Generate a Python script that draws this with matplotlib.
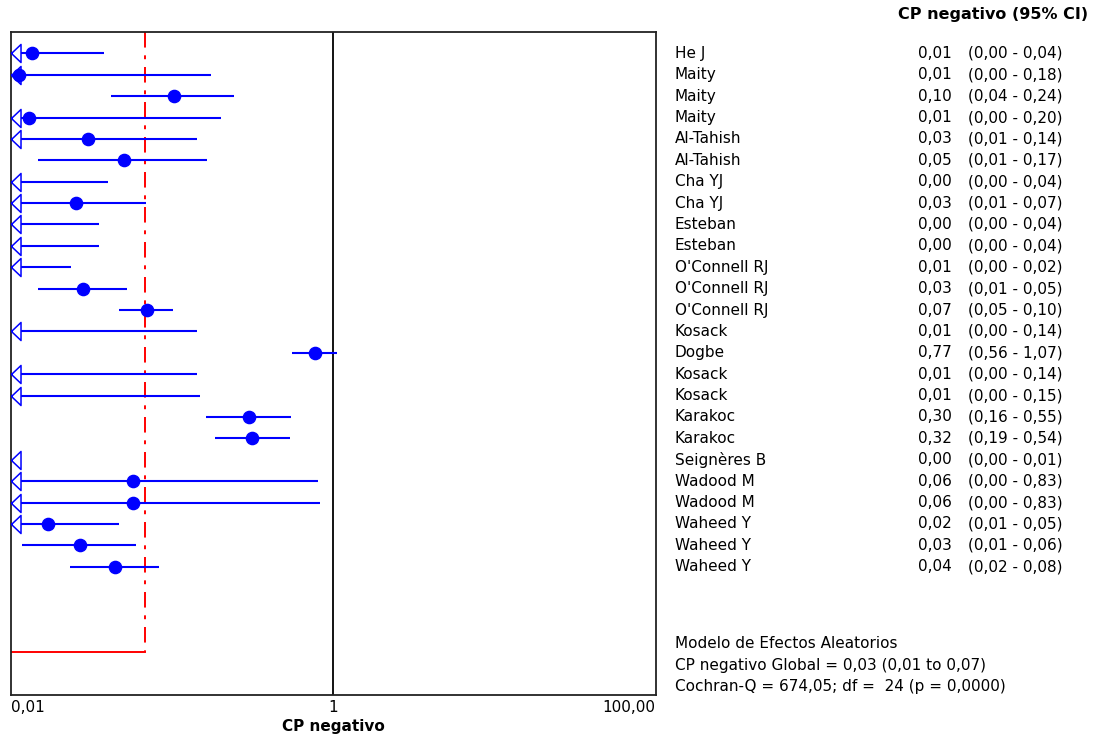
import matplotlib.pyplot as plt
import matplotlib.transforms as mtransforms
import numpy as np

# study labels and the printed columns
names = ["He J", "Maity", "Maity", "Maity", "Al-Tahish", "Al-Tahish", "Cha YJ", "Cha YJ",
         "Esteban", "Esteban", "O'Connell RJ", "O'Connell RJ", "O'Connell RJ", "Kosack",
         "Dogbe", "Kosack", "Kosack", "Karakoc", "Karakoc", "Seignères B", "Wadood M",
         "Wadood M", "Waheed Y", "Waheed Y", "Waheed Y"]
est_lbl = ["0,01", "0,01", "0,10", "0,01", "0,03", "0,05", "0,00", "0,03", "0,00", "0,00",
           "0,01", "0,03", "0,07", "0,01", "0,77", "0,01", "0,01", "0,30", "0,32", "0,00",
           "0,06", "0,06", "0,02", "0,03", "0,04"]
ci_lbl = ["(0,00 - 0,04)", "(0,00 - 0,18)", "(0,04 - 0,24)", "(0,00 - 0,20)", "(0,01 - 0,14)",
          "(0,01 - 0,17)", "(0,00 - 0,04)", "(0,01 - 0,07)", "(0,00 - 0,04)", "(0,00 - 0,04)",
          "(0,00 - 0,02)", "(0,01 - 0,05)", "(0,05 - 0,10)", "(0,00 - 0,14)", "(0,56 - 1,07)",
          "(0,00 - 0,14)", "(0,00 - 0,15)", "(0,16 - 0,55)", "(0,19 - 0,54)", "(0,00 - 0,01)",
          "(0,00 - 0,83)", "(0,00 - 0,83)", "(0,01 - 0,05)", "(0,01 - 0,06)", "(0,02 - 0,08)"]

# values (log axis)
est = [0.0135, 0.0113, 0.102, 0.013, 0.030, 0.050, 0.003, 0.0255, 0.003, 0.003,
       0.006, 0.028, 0.070, 0.007, 0.764, 0.007, 0.007, 0.30, 0.315, 0.002,
       0.057, 0.057, 0.0171, 0.0268, 0.0443]
lo = [0.002, 0.002, 0.042, 0.002, 0.009, 0.0147, 0.001, 0.008, 0.001, 0.001,
      0.001, 0.0147, 0.047, 0.001, 0.55, 0.001, 0.001, 0.1615, 0.185, 0.0005,
      0.002, 0.002, 0.008, 0.0117, 0.0232]
hi = [0.038, 0.174, 0.241, 0.20, 0.143, 0.164, 0.040, 0.069, 0.035, 0.035,
      0.0236, 0.0525, 0.101, 0.143, 1.05, 0.143, 0.149, 0.545, 0.535, 0.01,
      0.808, 0.823, 0.0466, 0.060, 0.0827]

pooled_line = 0.068
summary = ["Modelo de Efectos Aleatorios",
           "CP negativo Global = 0,03 (0,01 to 0,07)",
           "Cochran-Q = 674,05; df =  24 (p = 0,0000)"]

XMIN, XMAX = 0.01, 100.0
BLUE = "#0000ff"
FS = 11
plt.rcParams["font.family"] = ["DejaVu Sans"]

fig = plt.figure(figsize=(10.93, 7.38), dpi=100)
ax = fig.add_axes([0.010, 0.0583, 0.590, 0.8983])
ax.set_xscale("log")
ax.set_xlim(XMIN, XMAX)
ax.set_ylim(31, 0)

rows = np.arange(1, len(names) + 1)
pooled_row = 29

# vertical reference at 1
ax.axvline(1.0, color="black", lw=1.3, zorder=1)

# pooled estimate: dash-dot vertical + horizontal foot
ax.plot([pooled_line, pooled_line], [0, pooled_row], color="red", lw=1.4,
        dashes=(8, 4, 2, 4), zorder=2)
ax.plot([XMIN, pooled_line], [pooled_row, pooled_row], color="red", lw=1.4, zorder=2)

# open triangle pointing left, tip sits on the left edge
arrow = [(0, 0), (1, 0.95), (1, -0.95), (0, 0)]

for r, e, l, h in zip(rows, est, lo, hi):
    left = max(l, XMIN)
    if h > left:
        ax.plot([left, h], [r, r], color=BLUE, lw=1.5, zorder=3, solid_capstyle="butt")
    if l < XMIN:
        ax.plot([XMIN], [r], marker=arrow, ms=13.7, mfc="white", mec=BLUE, mew=1.1,
                zorder=4, clip_on=False)
    if e >= XMIN:
        ax.plot([e], [r], marker="o", ms=8.8, color=BLUE, zorder=5)

# frame and ticks
for s in ax.spines.values():
    s.set_color("#222222")
    s.set_linewidth(1.3)
ax.set_yticks([])
ax.set_xticks([])
ax.xaxis.set_minor_locator(plt.NullLocator())
xt = mtransforms.blended_transform_factory(ax.transData, ax.transAxes)
ax.text(XMIN, -0.008, "0,01", transform=xt, ha="left", va="top", fontsize=FS)
ax.text(1.0, -0.008, "1", transform=xt, ha="center", va="top", fontsize=FS)
ax.text(XMAX, -0.008, "100,00", transform=xt, ha="right", va="top", fontsize=FS)
ax.text(0.5, -0.036, "CP negativo", transform=ax.transAxes, ha="center", va="top",
        fontsize=FS, fontweight="bold")

# right-hand table
tr = mtransforms.blended_transform_factory(fig.transFigure, ax.transData)
fig.text(1088 / 1093, 1 - 14 / 738, "CP negativo (95% CI)", ha="right", va="center",
         fontsize=11.5, fontweight="bold")
for r, n, el, cl in zip(rows, names, est_lbl, ci_lbl):
    ax.text(675 / 1093, r, n, transform=tr, ha="left", va="center", fontsize=FS, clip_on=False)
    ax.text(918 / 1093, r, el, transform=tr, ha="left", va="center", fontsize=FS, clip_on=False)
    ax.text(968 / 1093, r, cl, transform=tr, ha="left", va="center", fontsize=FS, clip_on=False)

for i, line in enumerate(summary):
    ax.text(675 / 1093, 28.6 + i, line, transform=tr, ha="left", va="center",
            fontsize=FS, clip_on=False)

fig.savefig("out.png", dpi=100)
